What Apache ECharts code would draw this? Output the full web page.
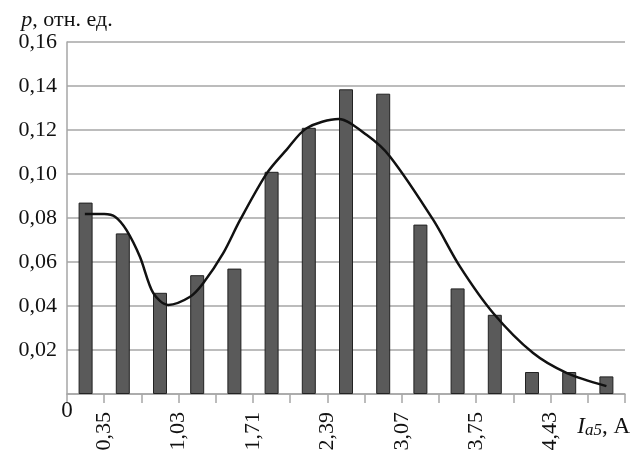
<!DOCTYPE html>
<html>
<head>
<meta charset="utf-8">
<script src="https://cdn.jsdelivr.net/npm/echarts@6/dist/echarts.min.js"></script>
<style>
    html, body { margin: 0; padding: 0; background: #fff; }
    #main { width: 640px; height: 459px; }
</style>
</head>
<body>
<div id="main"></div>
<script>
// bin edges 0..15, label shown on every other edge
var edgeLabels = ['', '0,35', '', '1,03', '', '1,71', '', '2,39', '', '3,07', '', '3,75', '', '4,43', '', ''];
// relative frequency of each of 15 bins
var probValues = [0.087, 0.073, 0.046, 0.054, 0.057, 0.101, 0.121, 0.1385, 0.1365, 0.077, 0.048, 0.036, 0.010, 0.010, 0.008];
// fitted curve, x in bin units
var curveX = [0.48, 1.0, 1.3, 1.6, 1.96, 2.32, 2.72, 3.31, 3.66, 4.2, 4.65, 5.37, 5.9, 6.44, 7.3, 8.06, 8.68, 9.85, 10.56, 11.46, 12.53, 13.44, 14.5];
var curveY = [0.0818, 0.0818, 0.0805, 0.0745, 0.0624, 0.0458, 0.0405, 0.0442, 0.0503, 0.064, 0.079, 0.1003, 0.111, 0.1208, 0.125, 0.1177, 0.108, 0.079, 0.058, 0.0367, 0.0186, 0.0095, 0.0036];

$(function () {
    var chart = echarts.init(document.getElementById('main'));
    var serif = 'Liberation Serif';
    var grey = '#a6a6a6';

    var barData = probValues.map(function (v, i) { return [i + 0.5, v]; });
    var lineData = curveX.map(function (x, i) { return [x, curveY[i]]; });

    var option = {
        backgroundColor: '#fff',
        animation: false,
        grid: { left: 67, right: 15, top: 42, bottom: 65 },
        xAxis: [{
            type: 'value',
            min: 0,
            max: 15,
            interval: 1,
            name: '{i|I}{s|a5}{n|, А}',
            nameLocation: 'end',
            nameGap: 5,
            nameTextStyle: {
                align: 'right',
                verticalAlign: 'top',
                padding: [20, 0, 0, 0],
                rich: {
                    i: { fontFamily: serif, fontStyle: 'italic', fontSize: 23, color: '#111' },
                    s: { fontFamily: serif, fontStyle: 'italic', fontSize: 17, color: '#111', padding: [8, 0, 0, 0] },
                    n: { fontFamily: serif, fontSize: 23, color: '#111' }
                }
            },
            axisLine: { lineStyle: { color: grey, width: 1.5 } },
            axisTick: { show: true, length: 9, lineStyle: { color: grey, width: 1.5 } },
            splitLine: { show: false },
            axisLabel: {
                rotate: 90,
                margin: 18,
                padding: [0, 0, 18, 0],
                fontFamily: serif,
                fontSize: 22,
                color: '#111',
                showMinLabel: true,
                showMaxLabel: true,
                formatter: function (v) { return edgeLabels[Math.round(v)] || ''; }
            }
        }, {
            type: 'value',
            position: 'bottom',
            min: 0,
            max: 15,
            interval: 1,
            axisLine: { show: false },
            axisTick: { show: false },
            splitLine: { show: false },
            axisLabel: {
                margin: 5,
                fontFamily: serif,
                fontSize: 23,
                color: '#111',
                formatter: function (v) { return v === 0 ? '0' : ''; }
            }
        }],
        yAxis: {
            type: 'value',
            min: 0,
            max: 0.16,
            interval: 0.02,
            name: '{p|p}{t|, отн. ед.}',
            nameLocation: 'end',
            nameGap: 10,
            nameTextStyle: {
                align: 'center',
                rich: {
                    p: { fontFamily: serif, fontStyle: 'italic', fontSize: 22, color: '#111' },
                    t: { fontFamily: serif, fontSize: 22, color: '#111' }
                }
            },
            axisLine: { show: true, lineStyle: { color: grey, width: 1.5 } },
            axisTick: { show: false },
            splitLine: { lineStyle: { color: grey, width: 1.5 } },
            axisLabel: {
                margin: 10,
                padding: [8, 0, 0, 0],
                fontFamily: serif,
                fontSize: 22,
                color: '#111',
                formatter: function (v) {
                    if (v === 0) return '';
                    return v.toFixed(2).replace('.', ',');
                }
            }
        },
        series: [{
            type: 'bar',
            xAxisIndex: 0,
            barWidth: 14,
            itemStyle: { color: '#5a5a5a', borderColor: '#222', borderWidth: 1 },
            data: barData
        }, {
            type: 'line',
            xAxisIndex: 0,
            smooth: 0.3,
            symbol: 'none',
            lineStyle: { color: '#111', width: 2.5 },
            data: lineData,
            z: 5
        }]
    };
    chart.setOption(option);
});

function $(fn) {
    window.addEventListener('load', fn);
}
</script>
</body>
</html>
